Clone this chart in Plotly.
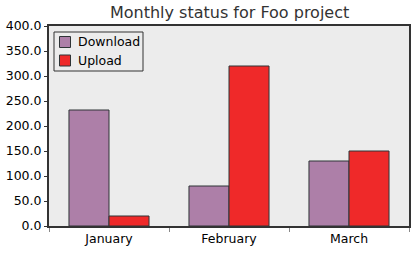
import plotly.graph_objects as go

months = ["January", "February", "March"]
download = [232, 80, 130]
upload = [20, 320, 150]
y_ticks = [0, 50, 100, 150, 200, 250, 300, 350, 400]
series_names = ["Download", "Upload"]
series_colors = ["#ad7fa8", "#ef2929"]

W, H = 419, 253
L, R, T, B = 49, 10, 26, 27
PW, PH = W - L - R, H - T - B


def px(x):
    return (x - L) / PW


def py(y):
    return (T + PH - y) / PH


fig = go.Figure()
for name, vals, col in zip(series_names, [download, upload], series_colors):
    fig.add_trace(go.Bar(x=months, y=vals, name=name,
                         marker=dict(color=col, line=dict(color="#2e3436", width=1))))

shapes = [dict(type="rect", xref="paper", yref="paper",
               x0=px(54), x1=px(143), y0=py(71), y1=py(32),
               fillcolor="#ececec", line=dict(color="#333333", width=1))]
annotations = []
for i, (name, col) in enumerate(zip(series_names, series_colors)):
    cy = 42 + i * 18.5
    shapes.append(dict(type="rect", xref="paper", yref="paper",
                       x0=px(59.5), x1=px(70.5), y0=py(cy + 5.5), y1=py(cy - 5.5),
                       fillcolor=col, line=dict(color="#2e3436", width=1)))
    annotations.append(dict(xref="paper", yref="paper", x=px(76), y=py(cy),
                            xanchor="left", yanchor="middle", showarrow=False,
                            text=name, font=dict(size=12.5, color="#000000")))

fig.update_layout(
    width=W, height=H,
    margin=dict(l=L, r=R, t=T, b=B),
    paper_bgcolor="white", plot_bgcolor="#ececec",
    font=dict(family="DejaVu Sans", size=12, color="#000000"),
    title=dict(text="Monthly status for Foo project", x=0.548, xanchor="center",
               y=0.95, yanchor="middle", font=dict(size=16, color="#333333")),
    barmode="group", bargap=0.333, bargroupgap=0,
    showlegend=False,
    shapes=shapes, annotations=annotations,
)
fig.update_xaxes(showline=True, linecolor="#333333", linewidth=2, mirror=True,
                 ticks="outside", tickson="boundaries", ticklen=4, tickcolor="#888888",
                 showgrid=False, tickfont=dict(size=12.5), automargin=False)
fig.update_yaxes(range=[0, 400], showline=True, linecolor="#333333", linewidth=2, mirror=True,
                 ticks="outside", ticklen=3, tickcolor="#333333",
                 tickvals=y_ticks, tickformat=".1f", showgrid=False, zeroline=False,
                 tickfont=dict(size=12.5), automargin=False)

fig.write_html("out.html")
